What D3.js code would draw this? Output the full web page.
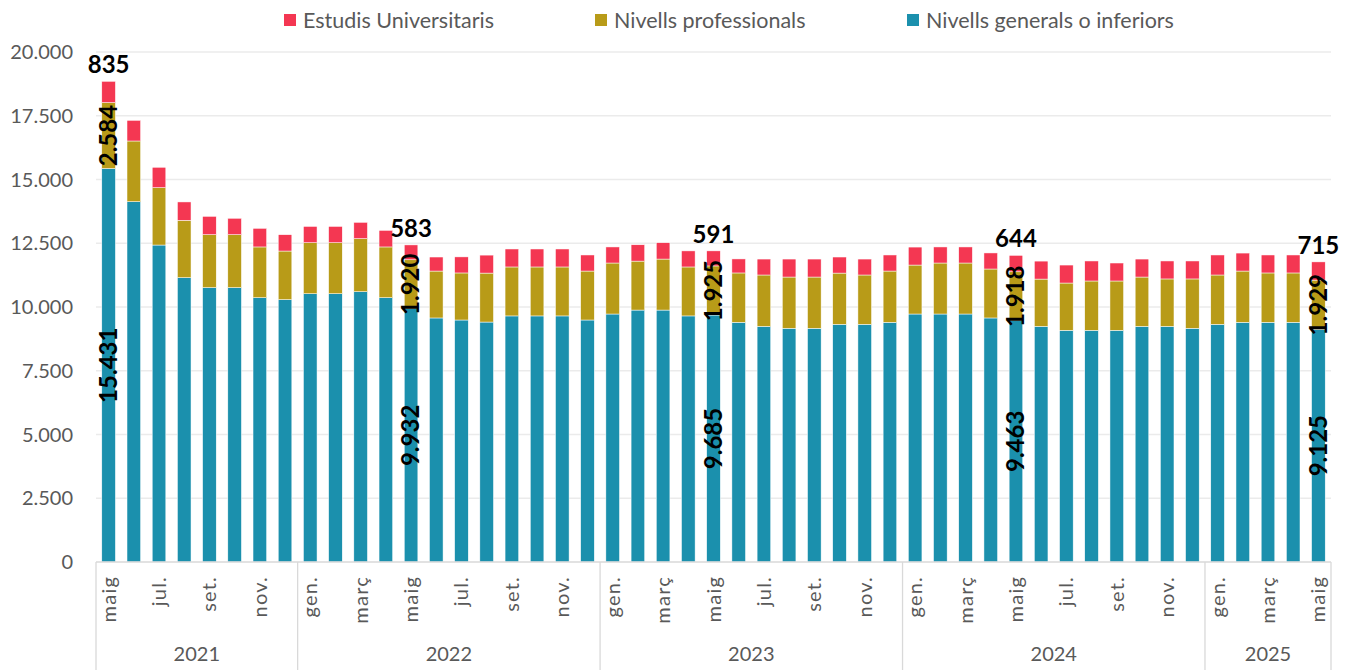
<!DOCTYPE html>
<html>
<head>
<meta charset="utf-8">
<script src="https://cdn.jsdelivr.net/npm/d3@7"></script>
<style>
  body { margin: 0; background: #fff; }
  svg { display: block; font-family: Lato, 'Open Sans', sans-serif; }
</style>
</head>
<body>
<svg id="chart" width="1353" height="670"></svg>
<script>
// years shown on the category axis and how many months each covers
const years = ['2021', '2022', '2023', '2024', '2025'];
const monthsPerYear = [8, 12, 12, 12, 5];
const firstMonth = [4, 0, 0, 0, 0]; // 2021 starts in May
const monthNames = ['gen.', 'febr.', 'març', 'abr.', 'maig', 'juny', 'jul.', 'ag.', 'set.', 'oct.', 'nov.', 'des.'];

const seriesNames = ['Nivells generals o inferiors', 'Nivells professionals', 'Estudis Universitaris'];
const seriesColors = ['#1b90ad', '#b89b18', '#f43752'];

// monthly values, maig 2021 -> maig 2025
const generals = [
  15431, 14130, 12430, 11150, 10760, 10760, 10365, 10290,
  10520, 10520, 10600, 10365, 9932, 9570, 9490, 9410, 9650, 9650, 9650, 9490,
  9725, 9880, 9880, 9650, 9685, 9400, 9240, 9165, 9165, 9320, 9320, 9400,
  9725, 9725, 9725, 9570, 9463, 9240, 9085, 9085, 9085, 9240, 9240, 9165,
  9320, 9400, 9400, 9400, 9125
];
const professionals = [
  2584, 2380, 2250, 2250, 2075, 2075, 1990, 1905,
  2000, 2000, 2080, 1990, 1920, 1840, 1845, 1920, 1920, 1920, 1920, 1920,
  2000, 1920, 2000, 1920, 1925, 1935, 2015, 2010, 2010, 2010, 1935, 2010,
  1920, 2000, 2000, 1920, 1918, 1855, 1855, 1935, 1935, 1935, 1860, 1935,
  1935, 2010, 1935, 1935, 1929
];
const universitaris = [
  835, 810, 800, 720, 720, 645, 730, 640,
  640, 640, 640, 650, 583, 550, 630, 705, 705, 705, 705, 630,
  630, 640, 640, 630, 591, 550, 625, 705, 705, 630, 625, 630,
  705, 630, 630, 630, 644, 705, 705, 785, 705, 705, 705, 705,
  785, 705, 705, 705, 715
];
// bars that carry value labels (every May)
const labelledBars = [0, 12, 24, 36, 48];

const yTicks = [0, 2500, 5000, 7500, 10000, 12500, 15000, 17500, 20000];

// build categories
const categories = [];
years.forEach((y, yi) => {
  for (let m = 0; m < monthsPerYear[yi]; m++) {
    categories.push({ key: y + '-' + (firstMonth[yi] + m), year: y, month: monthNames[firstMonth[yi] + m] });
  }
});
const rows = categories.map((c, i) => ({
  key: c.key, generals: generals[i], professionals: professionals[i], universitaris: universitaris[i]
}));

const ca = d3.formatLocale({ decimal: ',', thousands: '.', grouping: [3], currency: ['', ' €'] });
const fmt = ca.format(',d');

const width = 1353, height = 670;
const margin = { top: 52, right: 22, bottom: 108, left: 96 };
const innerW = width - margin.left - margin.right;
const innerH = height - margin.top - margin.bottom;

const svg = d3.select('#chart');
const grp = svg.append('g').attr('transform', `translate(${margin.left},${margin.top})`);

const x = d3.scaleBand()
  .domain(categories.map(c => c.key))
  .range([0, innerW])
  .paddingInner(0.46)
  .paddingOuter(0.23);

const y = d3.scaleLinear().domain([0, 20000]).range([innerH, 0]);

// gridlines + y labels
grp.append('g')
  .selectAll('line')
  .data(yTicks.filter(t => t > 0))
  .join('line')
  .attr('x1', 0).attr('x2', innerW)
  .attr('y1', d => y(d)).attr('y2', d => y(d))
  .attr('stroke', '#ebebeb').attr('stroke-width', 1.3);

grp.append('g')
  .selectAll('text')
  .data(yTicks)
  .join('text')
  .attr('x', -23)
  .attr('y', d => y(d))
  .attr('dy', '0.35em')
  .attr('text-anchor', 'end')
  .attr('font-size', 20)
  .attr('fill', '#595959')
  .text(d => fmt(d));

// stacked bars
const stack = d3.stack().keys(['generals', 'professionals', 'universitaris']);
const layers = stack(rows);

grp.append('g')
  .selectAll('g')
  .data(layers)
  .join('g')
  .attr('fill', (d, i) => seriesColors[i])
  .selectAll('rect')
  .data(d => d)
  .join('rect')
  .attr('x', d => x(d.data.key))
  .attr('width', x.bandwidth())
  .attr('y', d => y(d[1]))
  .attr('height', d => y(d[0]) - y(d[1]))
  .attr('stroke', '#fff')
  .attr('stroke-width', 0.5);

// category axis
const axis = grp.append('g').attr('transform', `translate(0,${innerH})`);
axis.append('line')
  .attr('x1', 0).attr('x2', innerW)
  .attr('stroke', '#d9d9d9').attr('stroke-width', 1.3);

const step = x.step();
const x0 = x.range()[0];
let start = 0;
const bounds = [0];
monthsPerYear.forEach(n => { start += n; bounds.push(start); });

axis.selectAll('.sep')
  .data(bounds)
  .join('line')
  .attr('class', 'sep')
  .attr('x1', d => x0 + d * step).attr('x2', d => x0 + d * step)
  .attr('y1', 0).attr('y2', height - margin.top - innerH)
  .attr('stroke', '#d9d9d9').attr('stroke-width', 1.3);

// month labels, every second category
axis.selectAll('.month')
  .data(categories.filter((c, i) => i % 2 === 0))
  .join('text')
  .attr('class', 'month')
  .attr('transform', d => `translate(${x(d.key) + x.bandwidth() / 2},14) rotate(-90)`)
  .attr('dy', '0.35em')
  .attr('text-anchor', 'end')
  .attr('font-size', 20)
  .attr('letter-spacing', 1.2)
  .attr('fill', '#595959')
  .text(d => d.month);

// year labels
axis.selectAll('.year')
  .data(years)
  .join('text')
  .attr('class', 'year')
  .attr('x', (d, i) => x0 + (bounds[i] + bounds[i + 1]) / 2 * step)
  .attr('y', 99)
  .attr('text-anchor', 'middle')
  .attr('font-size', 20)
  .attr('fill', '#595959')
  .text(d => d);

// data labels
const labels = grp.append('g').attr('font-weight', 'bold').attr('font-size', 24).attr('fill', '#000');
labelledBars.forEach(i => {
  const key = rows[i].key;
  const cx = x(key) + x.bandwidth() / 2;
  const g = layers[0][i], p = layers[1][i], u = layers[2][i];
  labels.append('text')
    .attr('transform', `translate(${cx},${(y(g[0]) + y(g[1])) / 2}) rotate(-90)`)
    .attr('text-anchor', 'middle').attr('dy', '0.35em')
    .text(fmt(rows[i].generals));
  labels.append('text')
    .attr('transform', `translate(${cx},${(y(p[0]) + y(p[1])) / 2}) rotate(-90)`)
    .attr('text-anchor', 'middle').attr('dy', '0.35em')
    .text(fmt(rows[i].professionals));
  labels.append('text')
    .attr('x', cx).attr('y', y(u[1]) - 8)
    .attr('text-anchor', 'middle')
    .text(fmt(rows[i].universitaris));
});

// legend
const legendItems = [
  { name: seriesNames[2], color: seriesColors[2], x: 284 },
  { name: seriesNames[1], color: seriesColors[1], x: 595 },
  { name: seriesNames[0], color: seriesColors[0], x: 907 }
];
const legend = svg.append('g');
legendItems.forEach(d => {
  legend.append('rect').attr('x', d.x).attr('y', 14).attr('width', 12).attr('height', 12).attr('fill', d.color);
  legend.append('text').attr('x', d.x + 19).attr('y', 20).attr('dy', '0.35em')
    .attr('font-size', 21.5).attr('fill', '#595959').text(d.name);
});
</script>
</body>
</html>
